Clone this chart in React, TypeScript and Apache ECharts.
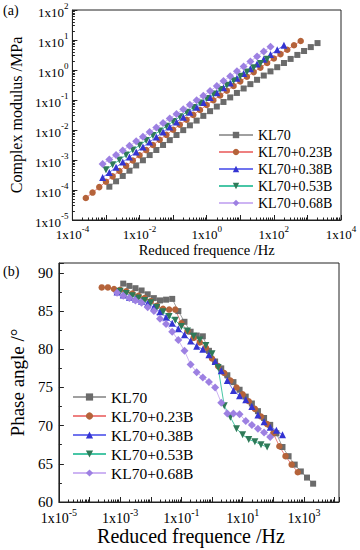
import React, { useEffect, useRef } from 'react';
import * as echarts from 'echarts';

const FONT = '"Liberation Serif", "Times New Roman", serif';

// ---------- data ----------
const kl70Freq = [1.26e-3, 2.0e-3, 3.16e-3, 5.01e-3, 7.94e-3, 1.26e-2, 2.0e-2, 3.16e-2, 5.01e-2, 7.94e-2, 0.126, 0.2, 0.316, 0.501, 0.794, 1.26, 2.0, 3.16, 5.01, 7.94, 12.6, 20, 31.6, 50.1, 79.4, 126, 200, 316, 501, 794, 1260, 2000];
const kl70Modulus = [1.29e-4, 1.95e-4, 2.94e-4, 4.4e-4, 6.6e-4, 9.8e-4, 1.46e-3, 2.15e-3, 3.17e-3, 4.6e-3, 6.8e-3, 9.9e-3, 1.43e-2, 2.06e-2, 2.96e-2, 4.25e-2, 6.05e-2, 8.6e-2, 0.122, 0.172, 0.242, 0.338, 0.471, 0.653, 0.9, 1.24, 1.71, 2.34, 3.18, 4.3, 5.8, 7.9];
const kl70Phase = [88.6, 88.3, 88.0, 87.7, 87.2, 86.7, 86.4, 86.5, 86.6, 85.0, 83.6, 82.3, 81.8, 81.7, 79.8, 78.4, 77.5, 76.6, 75.7, 74.7, 73.8, 72.9, 71.9, 71.0, 70.1, 69.0, 67.2, 66.0, 64.9, 64.0, 63.2, 62.4];

const b23Freq = [2.51e-4, 3.98e-4, 6.31e-4, 1e-3, 1.58e-3, 2.51e-3, 3.98e-3, 6.31e-3, 1e-2, 1.58e-2, 2.51e-2, 3.98e-2, 6.31e-2, 0.1, 0.158, 0.251, 0.398, 0.631, 1, 1.58, 2.51, 3.98, 6.31, 10, 15.8, 25.1, 39.8, 63.1, 100, 158, 251, 398, 631];
const b23Modulus = [5.4e-5, 8.2e-5, 1.25e-4, 1.89e-4, 2.85e-4, 4.3e-4, 6.4e-4, 9.6e-4, 1.44e-3, 2.14e-3, 3.17e-3, 4.7e-3, 6.9e-3, 1.02e-2, 1.5e-2, 2.19e-2, 3.2e-2, 4.66e-2, 6.8e-2, 9.8e-2, 0.141, 0.204, 0.292, 0.418, 0.596, 0.85, 1.2, 1.71, 2.41, 3.39, 4.75, 6.67, 9.3];
const b23Phase = [88.1, 88.1, 87.9, 87.8, 87.6, 87.3, 87.0, 86.7, 86.3, 85.7, 85.3, 85.2, 85.2, 83.4, 82.4, 81.5, 80.9, 80.2, 78.8, 77.8, 76.9, 75.9, 75.0, 74.1, 73.2, 72.2, 71.2, 70.2, 69.0, 67.3, 66.0, 64.9, 63.9];

const b38Freq = [7.94e-4, 1.26e-3, 2.0e-3, 3.16e-3, 5.01e-3, 7.94e-3, 1.26e-2, 2.0e-2, 3.16e-2, 5.01e-2, 7.94e-2, 0.126, 0.2, 0.316, 0.501, 0.794, 1.26, 2.0, 3.16, 5.01, 7.94, 12.6, 20, 31.6, 50.1, 79.4, 126, 200];
const b38Modulus = [2.61e-4, 3.86e-4, 5.7e-4, 8.5e-4, 1.25e-3, 1.84e-3, 2.71e-3, 3.98e-3, 5.85e-3, 8.6e-3, 1.26e-2, 1.84e-2, 2.68e-2, 3.91e-2, 5.7e-2, 8.3e-2, 0.12, 0.175, 0.254, 0.366, 0.53, 0.764, 1.1, 1.59, 2.28, 3.27, 4.69, 6.7];
const b38Phase = [87.5, 87.1, 86.8, 86.6, 86.3, 86.0, 85.5, 84.9, 84.2, 83.4, 82.7, 81.9, 81.1, 80.4, 80.0, 79.3, 78.4, 77.2, 75.9, 74.6, 73.9, 73.4, 72.5, 71.4, 70.5, 69.8, 69.4, 68.8];

const b53Freq = [1e-3, 1.58e-3, 2.51e-3, 3.98e-3, 6.31e-3, 1e-2, 1.58e-2, 2.51e-2, 3.98e-2, 6.31e-2, 0.1, 0.158, 0.251, 0.398, 0.631, 1, 1.58, 2.51, 3.98, 6.31, 10, 15.8, 25.1, 39.8, 63.1];
const b53Modulus = [4.7e-4, 6.9e-4, 1.0e-3, 1.47e-3, 2.14e-3, 3.1e-3, 4.5e-3, 6.5e-3, 9.3e-3, 1.34e-2, 1.92e-2, 2.75e-2, 3.93e-2, 5.6e-2, 7.9e-2, 0.112, 0.158, 0.223, 0.313, 0.44, 0.614, 0.855, 1.19, 1.65, 2.29];
const b53Phase = [87.6, 87.3, 87.0, 86.7, 86.4, 86.1, 85.5, 84.9, 84.3, 83.8, 83.0, 82.4, 81.7, 81.2, 80.5, 79.4, 77.6, 72.6, 71.1, 69.6, 68.8, 68.2, 67.9, 67.5, 67.2];

const b68Freq = [7.94e-4, 1.26e-3, 2.0e-3, 3.16e-3, 5.01e-3, 7.94e-3, 1.26e-2, 2.0e-2, 3.16e-2, 5.01e-2, 7.94e-2, 0.126, 0.2, 0.316, 0.501, 0.794, 1.26, 2.0, 3.16, 5.01, 7.94, 12.6, 20, 31.6, 50.1, 79.4];
const b68Modulus = [7.3e-4, 1.04e-3, 1.47e-3, 2.09e-3, 2.96e-3, 4.2e-3, 5.97e-3, 8.5e-3, 1.2e-2, 1.71e-2, 2.42e-2, 3.44e-2, 4.88e-2, 6.9e-2, 9.8e-2, 0.139, 0.2, 0.292, 0.427, 0.622, 0.91, 1.32, 1.93, 2.82, 4.11, 6.0];
const b68Phase = [87.4, 87.0, 86.7, 86.4, 86.1, 85.5, 85.0, 84.0, 83.3, 82.3, 81.2, 79.8, 78.0, 77.0, 76.3, 75.7, 75.0, 73.0, 71.6, 71.6, 71.5, 70.6, 70.1, 69.6, 69.1, 68.5];

const seriesNames = ['KL70', 'KL70+0.23B', 'KL70+0.38B', 'KL70+0.53B', 'KL70+0.68B'];
const freqs = [kl70Freq, b23Freq, b38Freq, b53Freq, b68Freq];
const moduli = [kl70Modulus, b23Modulus, b38Modulus, b53Modulus, b68Modulus];
const phases = [kl70Phase, b23Phase, b38Phase, b53Phase, b68Phase];

// ---------- styles ----------
const looks = [
  { symbol: 'rect', rotate: 0, color: '#6b6b6b', line: '#a0a0a0', size: 6 },
  { symbol: 'circle', rotate: 0, color: '#b5633a', line: '#ee8080', size: 6.5 },
  { symbol: 'triangle', rotate: 0, color: '#3434d2', line: '#7074ee', size: 7 },
  { symbol: 'triangle', rotate: 180, color: '#2f7a58', line: '#48c6a6', size: 7 },
  { symbol: 'diamond', rotate: 0, color: '#9d80e2', line: '#cdb4f3', size: 8 },
];

function powerLabel(parity: number) {
  return (v: number) => {
    const e = Math.log10(v);
    const n = Math.round(e);
    if (Math.abs(e - n) > 1e-6) return '';
    if (parity !== 2 && Math.abs(n % 2) !== parity) return '';
    return `{b|1x10}{s|${n}}`;
  };
}

function richFor(size: number) {
  return {
    b: { fontSize: size, fontFamily: FONT, color: '#000', verticalAlign: 'bottom', lineHeight: size + 4 },
    s: { fontSize: Math.round(size * 0.68), fontFamily: FONT, color: '#000', verticalAlign: 'top', lineHeight: size + 4 },
  };
}

const axisLine = { show: true, lineStyle: { color: '#222', width: 1 } };

function buildOption() {
  const series: any[] = [];
  seriesNames.forEach((name, i) => {
    const lk = looks[i];
    const common = {
      name,
      type: 'line',
      symbol: lk.symbol,
      symbolRotate: lk.rotate,
      symbolSize: lk.size,
      itemStyle: { color: lk.color },
      lineStyle: { color: lk.line, width: 1 },
      emphasis: { disabled: true },
    };
    series.push({
      ...common,
      xAxisIndex: 0,
      yAxisIndex: 0,
      data: freqs[i].map((f, k) => [f, moduli[i][k]]),
    });
    series.push({
      ...common,
      xAxisIndex: 1,
      yAxisIndex: 1,
      data: freqs[i].map((f, k) => [f, phases[i][k]]),
    });
  });

  return {
    animation: false,
    backgroundColor: '#fff',
    textStyle: { fontFamily: FONT },
    grid: [
      { left: 66, top: 10, width: 275, height: 210, show: true, borderColor: '#222', borderWidth: 1, backgroundColor: 'transparent' },
      { left: 46, top: 263, width: 293, height: 239, show: true, borderColor: '#222', borderWidth: 1, backgroundColor: 'transparent' },
    ],
    xAxis: [
      {
        type: 'log', logBase: 10, gridIndex: 0, min: 1e-4, max: 1e4,
        name: 'Reduced frequence /Hz', nameLocation: 'middle', nameGap: 22,
        nameTextStyle: { fontSize: 14.5, fontFamily: FONT, color: '#000' },
        axisLine, splitLine: { show: false },
        axisTick: { show: true, inside: true, length: 5, lineStyle: { color: '#222' } },
        minorTick: { show: true, splitNumber: 9, length: 2.5, lineStyle: { color: '#222' } },
        axisLabel: { formatter: powerLabel(0), margin: 4, rich: richFor(13) },
      },
      {
        type: 'log', logBase: 10, gridIndex: 1, min: 1e-5, max: 1.4e4,
        name: 'Reduced frequence /Hz', nameLocation: 'middle', nameGap: 24,
        nameTextStyle: { fontSize: 20, fontFamily: FONT, color: '#000', padding: [0, 16, 0, 0] },
        axisLine, splitLine: { show: false },
        axisTick: { show: true, inside: true, length: 5, lineStyle: { color: '#222' } },
        minorTick: { show: true, splitNumber: 9, length: 2.5, lineStyle: { color: '#222' } },
        axisLabel: { formatter: powerLabel(1), margin: 5, rich: richFor(14) },
      },
    ],
    yAxis: [
      {
        type: 'log', logBase: 10, gridIndex: 0, min: 1e-5, max: 1e2,
        name: 'Complex modulus /MPa', nameLocation: 'middle', nameGap: 44,
        nameTextStyle: { fontSize: 16, fontFamily: FONT, color: '#000' },
        axisLine, splitLine: { show: false },
        axisTick: { show: true, inside: true, length: 5, lineStyle: { color: '#222' } },
        minorTick: { show: true, splitNumber: 9, length: 2.5, lineStyle: { color: '#222' } },
        axisLabel: { formatter: powerLabel(2), margin: 4, rich: richFor(13) },
      },
      {
        type: 'value', gridIndex: 1, min: 60, max: 91.3, interval: 5,
        name: 'Phase angle /°', nameLocation: 'middle', nameGap: 24,
        nameTextStyle: { fontSize: 19, fontFamily: FONT, color: '#000' },
        axisLine, splitLine: { show: false },
        axisTick: { show: true, inside: true, length: 5, lineStyle: { color: '#222' } },
        minorTick: { show: true, splitNumber: 2, length: 3, lineStyle: { color: '#222' } },
        axisLabel: {
          formatter: (v: number) => (Math.abs(v % 5) < 1e-6 ? String(v) : ''),
          margin: 6, fontSize: 15, fontFamily: FONT, color: '#000',
        },
      },
    ],
    legend: [
      {
        orient: 'vertical', left: 213, top: 123, data: seriesNames,
        itemWidth: 34, itemHeight: 8, itemGap: 3,
        textStyle: { fontSize: 14, lineHeight: 14, fontFamily: FONT, color: '#000' },
        selectedMode: false,
      },
      {
        orient: 'vertical', left: 67, top: 384, data: seriesNames,
        itemWidth: 33, itemHeight: 9, itemGap: 3,
        textStyle: { fontSize: 15.5, lineHeight: 16, fontFamily: FONT, color: '#000' },
        selectedMode: false,
      },
    ],
    graphic: [
      { type: 'text', left: 3, top: 3, style: { text: '(a)', fontSize: 14, fontFamily: FONT, fill: '#000' } },
      { type: 'text', left: 3, top: 264, style: { text: '(b)', fontSize: 14, fontFamily: FONT, fill: '#000' } },
    ],
    series,
  };
}

export default function App() {
  const ref = useRef<HTMLDivElement>(null);
  useEffect(() => {
    document.body.style.margin = '0';
    const chart = echarts.init(ref.current!, null, { renderer: 'svg' });
    chart.setOption(buildOption() as any);
    return () => chart.dispose();
  }, []);
  return <div ref={ref} style={{ width: 360, height: 550 }} />;
}
